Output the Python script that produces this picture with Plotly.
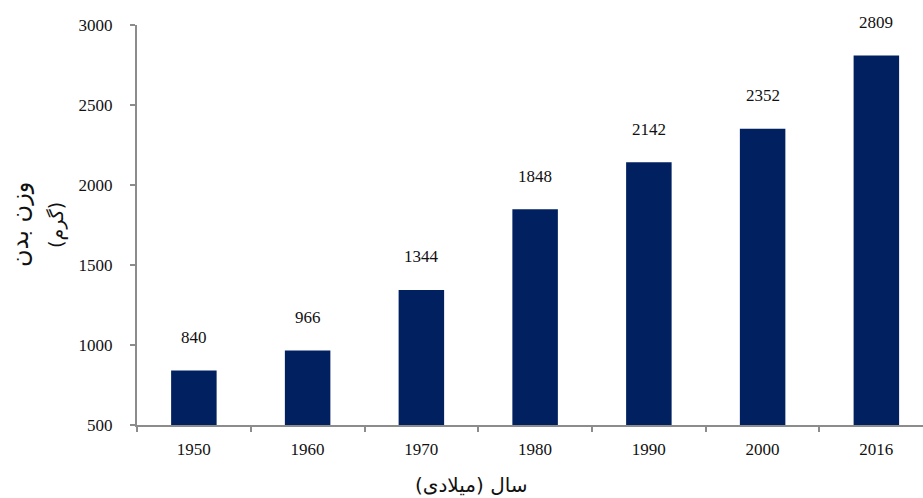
import plotly.graph_objects as go

# Body weight by year
years = ["1950", "1960", "1970", "1980", "1990", "2000", "2016"]
weights = [840, 966, 1344, 1848, 2142, 2352, 2809]
y_ticks = [500, 1000, 1500, 2000, 2500, 3000]

BAR_COLOR = "#002060"
AXIS_COLOR = "#8c8c8c"
TEXT_COLOR = "#111111"
NUM_FONT = "Liberation Serif, Times New Roman, serif"
FA_FONT = "DejaVu Sans, Noto Sans, sans-serif"

fig = go.Figure()
fig.add_trace(go.Bar(
    x=years,
    y=weights,
    marker=dict(color=BAR_COLOR, line=dict(width=0)),
    width=0.4,
    hoverinfo="x+y",
))

# value labels above each bar (positioned by category index)
for i, w in enumerate(weights):
    fig.add_annotation(
        x=i, y=w, xref="x", yref="y", text=str(w), showarrow=False,
        yanchor="middle", yshift=33,
        font=dict(family=NUM_FONT, size=17, color=TEXT_COLOR),
    )

# two-line vertical y-axis title
fig.add_annotation(
    x=0, y=0.5, xref="paper", yref="paper", xshift=-117,
    text="وزن بدن", textangle=-90, showarrow=False,
    xanchor="center", yanchor="middle",
    font=dict(family=FA_FONT, size=24, color=TEXT_COLOR),
)
fig.add_annotation(
    x=0, y=0.5, xref="paper", yref="paper", xshift=-81,
    text="(گرم)", textangle=-90, showarrow=False,
    xanchor="center", yanchor="middle",
    font=dict(family=FA_FONT, size=19, color=TEXT_COLOR),
)

# x-axis title, centred on the page rather than the plot area
fig.add_annotation(
    x=0.425, y=0, xref="paper", yref="paper", yshift=-60,
    text="سال (میلادی)", showarrow=False,
    xanchor="center", yanchor="middle",
    font=dict(family=FA_FONT, size=20, color=TEXT_COLOR),
)

fig.update_layout(
    width=923, height=498,
    margin=dict(l=137, r=0, t=25, b=73),
    paper_bgcolor="white", plot_bgcolor="white",
    showlegend=False,
    xaxis=dict(
        type="category",
        range=[-0.5, 6.41],
        showline=True, linecolor=AXIS_COLOR, linewidth=2,
        ticks="outside", tickson="boundaries", ticklen=5,
        tickcolor=AXIS_COLOR, tickwidth=2,
        showgrid=False, zeroline=False,
        ticklabelstandoff=8,
        tickfont=dict(family=NUM_FONT, size=17, color=TEXT_COLOR),
    ),
    yaxis=dict(
        range=[500, 3000],
        tickvals=y_ticks,
        showline=True, linecolor=AXIS_COLOR, linewidth=2,
        ticks="outside", ticklen=5, tickcolor=AXIS_COLOR, tickwidth=2,
        showgrid=False, zeroline=False,
        ticklabelstandoff=14,
        tickfont=dict(family=NUM_FONT, size=17, color=TEXT_COLOR),
    ),
)

fig.write_html("out.html")
